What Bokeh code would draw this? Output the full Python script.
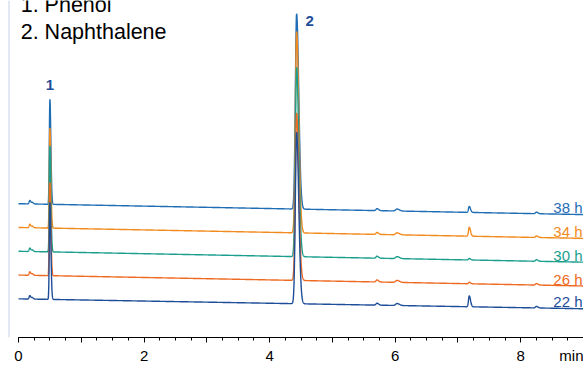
import numpy as np
from bokeh.plotting import figure
from bokeh.models import Range1d, FixedTicker, Label, ColumnDataSource, Span
from bokeh.embed import file_html
from bokeh.resources import INLINE
from bokeh.core.properties import value

# Sampling time of the runs (bottom trace first)
runs = ["22 h", "26 h", "30 h", "34 h", "38 h"]
run_colors = ["#1f4e99", "#ee6a22", "#1b9e8e", "#f28b1e", "#1f6db4"]

# Stacked detector baseline (a.u.) at the start and the end of each run
baseline_start = [39, 63, 87, 111, 135]
baseline_end = [29, 52, 76, 100, 124]

# Peak table: retention time (min), peak width sigma (min), height per run (a.u.)
peak_rt = [0.18, 0.22, 0.50, 4.43, 5.71, 6.03, 7.18, 8.25]
peak_sigma = [0.010, 0.010, 0.009, 0.020, 0.015, 0.022, 0.012, 0.015]
peak_height_22h = [3.5, 1.5, 98, 173, 2.0, 2.0, 11.0, 1.5]
peak_height_26h = [3.5, 1.5, 94, 169, 2.0, 2.0, 1.5, 1.5]
peak_height_30h = [3.5, 1.5, 107, 191, 2.0, 2.0, 1.5, 1.5]
peak_height_34h = [3.5, 1.5, 101, 203, 2.0, 2.0, 9.0, 1.5]
peak_height_38h = [3.5, 1.5, 106, 197, 2.0, 2.0, 6.0, 1.5]
peak_heights = [peak_height_22h, peak_height_26h, peak_height_30h,
                peak_height_34h, peak_height_38h]

# Identified compounds
compound_ids = ["1", "2"]
compound_rt = [0.50, 4.43]
compound_names = ["1. Phenol", "2. Naphthalene"]

# Time axis
run_end = 9.0
x_major = [0, 1, 2, 3, 4, 5, 6, 7, 8, 9]
x_minor = [i * 0.25 for i in range(37)]
x_labelled = [0, 2, 4, 6, 8]
x_unit = "min"

FONT = "Liberation Sans"
t = np.linspace(0.0, run_end, 4501)


def trace(b0, b1, heights):
    """Detector signal: drifting baseline plus slightly tailing peaks."""
    y = b0 + (b1 - b0) * t / run_end
    for rt, s, h in zip(peak_rt, peak_sigma, heights):
        width = np.where(t < rt, s, 1.7 * s)
        y = y + h * np.exp(-0.5 * ((t - rt) / width) ** 2)
    return y


# 565 px of frame for the 9 min run, plus an 18 px margin on the left
px_per_min = 565 / run_end
x_start = -18 / px_per_min

p = figure(width=583, height=366, output_backend="svg", toolbar_location=None,
           x_range=Range1d(x_start, run_end), y_range=Range1d(0, 340),
           min_border_left=0, min_border_right=0, min_border_top=0,
           min_border_bottom=26)
p.outline_line_color = None
p.background_fill_color = "white"
p.border_fill_color = "white"
p.grid.visible = False
p.yaxis.visible = False

# Thin page rule on the far left
p.add_layout(Span(location=x_start + 8.5 / px_per_min, dimension="height",
                  line_color="#c8d0ea", line_width=1))

signals = [trace(b0, b1, h) for b0, b1, h in zip(baseline_start, baseline_end, peak_heights)]

# Draw the top trace first so the lower runs overlay it
for name, color, y in reversed(list(zip(runs, run_colors, signals))):
    p.line(t, y, line_color=color, line_width=1.4)

# Run labels at the right end of each trace
lab = ColumnDataSource(dict(x=[run_end] * len(runs), y=[b + 7 for b in baseline_end],
                            text=runs, color=run_colors))
p.text(x="x", y="y", text="text", text_color="color", source=lab,
       text_align="right", text_baseline="alphabetic", x_offset=-1,
       text_font=value(FONT), text_font_size="15px")

# Compound numbers above the peaks
apex = [max(np.interp(rt, t, y) for y in signals) for rt in compound_rt]
p.text(x=[compound_rt[0]], y=[apex[0] + 14], text=[compound_ids[0]],
       text_color="#1f4e99", text_align="center", text_baseline="middle",
       text_font=value(FONT), text_font_size="15px", text_font_style="bold")
p.text(x=[compound_rt[1]], y=[apex[1] - 7], text=[compound_ids[1]],
       text_color="#1f4e99", text_align="center", text_baseline="middle",
       x_offset=13, text_font=value(FONT), text_font_size="15px",
       text_font_style="bold")

# Compound key, top left
for i, name in enumerate(compound_names):
    p.add_layout(Label(x=0.035, y=335 - 27 * i, text=name, text_baseline="alphabetic",
                       text_font=FONT, text_font_size="21.5px", text_color="black"))

# Time axis; the unit label sits on the last tick at the right edge
labels = {v: (str(v) if v in x_labelled else "") for v in x_major}
labels[x_major[-1]] = x_unit
ax = p.xaxis[0]
ax.bounds = (0, run_end)
ax.ticker = FixedTicker(ticks=x_major, minor_ticks=x_minor)
ax.major_label_overrides = labels
ax.major_tick_in = 0
ax.major_tick_out = 5
ax.minor_tick_in = 0
ax.minor_tick_out = 3
ax.axis_line_color = "black"
ax.axis_line_width = 1
ax.major_tick_line_color = "black"
ax.minor_tick_line_color = "black"
ax.major_label_text_font = FONT
ax.major_label_text_font_size = "15px"
ax.major_label_text_color = "black"
ax.major_label_standoff = 4

open("out.html", "w").write(file_html(p, INLINE))
